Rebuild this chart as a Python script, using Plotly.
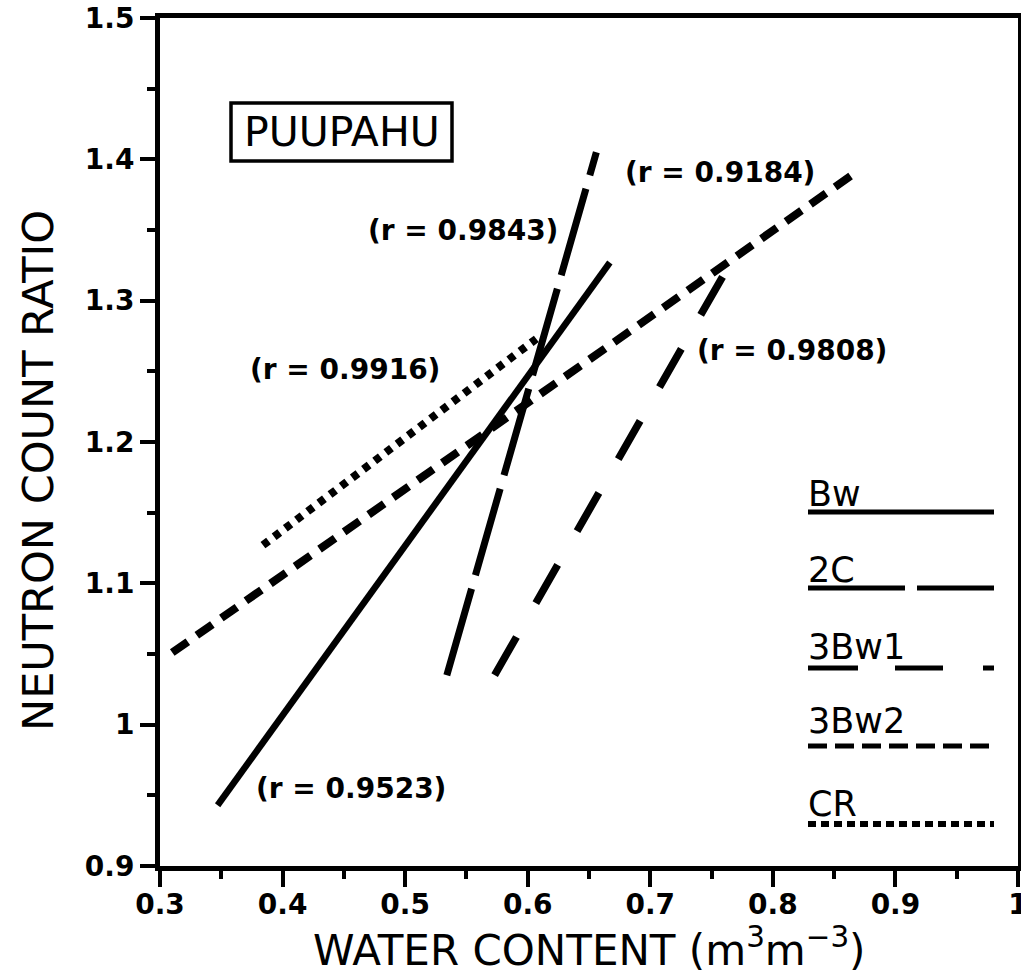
import plotly.graph_objects as go

# Regression lines: neutron count ratio vs volumetric water content (Puupahu)
horizons = ["Bw", "2C", "3Bw1", "3Bw2", "CR"]
bw_x = [0.347, 0.667]
bw_y = [0.943, 1.327]
c2_x = [0.534, 0.656]
c2_y = [1.035, 1.405]
bw1_x = [0.573, 0.761]
bw1_y = [1.035, 1.320]
bw2_x = [0.310, 0.868]
bw2_y = [1.051, 1.391]
cr_x = [0.384, 0.607]
cr_y = [1.127, 1.273]

r_labels = ["(r = 0.9523)", "(r = 0.9843)", "(r = 0.9808)", "(r = 0.9184)", "(r = 0.9916)"]
r_label_x = [0.456, 0.547, 0.816, 0.757, 0.451]
r_label_y = [0.955, 1.350, 1.265, 1.391, 1.251]

x_ticks = [0.3, 0.4, 0.5, 0.6, 0.7, 0.8, 0.9, 1.0]
y_ticks = [0.9, 1.0, 1.1, 1.2, 1.3, 1.4, 1.5]

FONT = "DejaVu Sans"
W, H = 1021, 976
ML, MR, MT, MB = 160, 3, 18, 110
PW, PH = W - ML - MR, H - MT - MB


def fx(p):
    """page pixel column -> paper x"""
    return (p - ML) / PW


def fy(p):
    """page pixel row -> paper y"""
    return (H - MB - p) / PH


styles = {
    "Bw": dict(width=6.5, dash="solid"),
    "2C": dict(width=7, dash="90px,14px"),
    "3Bw1": dict(width=7.5, dash="44px,39px"),
    "3Bw2": dict(width=8, dash="19px,11px"),
    "CR": dict(width=8, dash="7px,7px"),
}
series = {
    "Bw": (bw_x, bw_y),
    "2C": (c2_x, c2_y),
    "3Bw1": (bw1_x, bw1_y),
    "3Bw2": (bw2_x, bw2_y),
    "CR": (cr_x, cr_y),
}

fig = go.Figure()
for name in horizons:
    xs, ys = series[name]
    fig.add_trace(go.Scatter(
        x=xs, y=ys, mode="lines", name=name, showlegend=False,
        line=dict(color="black", **styles[name]),
    ))

annotations = []
for txt, ax, ay in zip(r_labels, r_label_x, r_label_y):
    annotations.append(dict(
        x=ax, y=ay, xref="x", yref="y", text=f"<b>{txt}</b>", showarrow=False,
        font=dict(family=FONT, size=28, color="black"),
        xanchor="center", yanchor="middle",
    ))

# site label in a framed box
annotations.append(dict(
    x=fx(342), y=fy(132), xref="paper", yref="paper", text="PUUPAHU",
    showarrow=False, font=dict(family=FONT, size=41, color="black"),
    xanchor="center", yanchor="middle",
))
shapes = [dict(
    type="rect", xref="paper", yref="paper",
    x0=fx(231), x1=fx(452), y0=fy(103), y1=fy(161),
    line=dict(color="black", width=3.5), fillcolor="rgba(0,0,0,0)",
)]

# key: label above a sample of each line style
key_text_y = [494, 570, 647, 721, 804]
key_line_y = [512, 588, 668, 746, 824]
key_dash = {
    "Bw": "solid",
    "2C": "97px,12px",
    "3Bw1": "50px,37px,48px,40px",
    "3Bw2": "19px,8px",
    "CR": "8px,5px",
}
key_width = {"Bw": 5, "2C": 5, "3Bw1": 5, "3Bw2": 5, "CR": 6}
for name, ty, ly in zip(horizons, key_text_y, key_line_y):
    annotations.append(dict(
        x=fx(806), y=fy(ty), xref="paper", yref="paper", text=name,
        showarrow=False, font=dict(family=FONT, size=35, color="black"),
        xanchor="left", yanchor="middle",
    ))
    shapes.append(dict(
        type="line", xref="paper", yref="paper",
        x0=fx(808), x1=fx(994), y0=fy(ly), y1=fy(ly),
        line=dict(color="black", width=key_width[name], dash=key_dash[name]),
    ))

# axis titles
annotations.append(dict(
    x=fx(589), y=fy(947), xref="paper", yref="paper",
    text="WATER CONTENT (m<sup>3</sup>m<sup>\u22123</sup>)",
    showarrow=False, font=dict(family=FONT, size=42, color="black"),
    xanchor="center", yanchor="middle",
))
annotations.append(dict(
    x=fx(38), y=fy(471), xref="paper", yref="paper",
    text="NEUTRON COUNT RATIO", textangle=-90,
    showarrow=False, font=dict(family=FONT, size=43, color="black"),
    xanchor="center", yanchor="middle",
))

axis_common = dict(
    showgrid=False, zeroline=False, showline=True, linecolor="black",
    linewidth=5, mirror=True, ticks="outside", tickcolor="black",
    tickwidth=3.5, ticklabeloverflow="allow", automargin=False,
    tickfont=dict(family=FONT, size=28, color="black", weight="bold"),
)
fig.update_xaxes(
    range=[0.3, 1.0], tickvals=x_ticks, ticklen=16, ticklabelstandoff=-7,
    minor=dict(dtick=0.05, ticklen=8, tickwidth=3.5, tickcolor="black", ticks="outside"),
    **axis_common,
)
fig.update_yaxes(
    range=[0.9, 1.5], tickvals=y_ticks, ticklen=15,
    minor=dict(dtick=0.05, ticklen=8, tickwidth=3.5, tickcolor="black", ticks="outside"),
    **axis_common,
)

fig.update_layout(
    width=W, height=H,
    margin=dict(l=ML, r=MR, t=MT, b=MB, autoexpand=False),
    paper_bgcolor="white", plot_bgcolor="white",
    showlegend=False,
    annotations=annotations, shapes=shapes,
)

fig.write_html("out.html")
